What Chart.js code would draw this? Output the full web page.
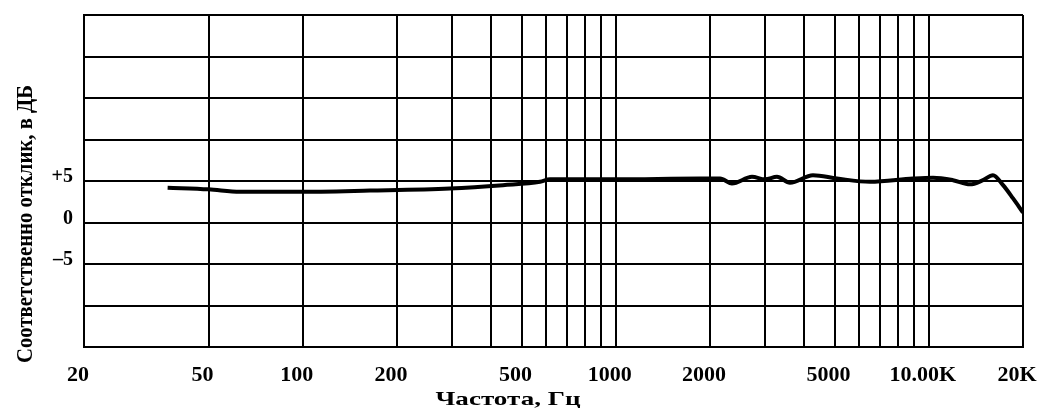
<!DOCTYPE html>
<html>
<head>
<meta charset="utf-8">
<script src="https://cdn.jsdelivr.net/npm/chart.js@4"></script>
<style>
  html, body { margin: 0; padding: 0; background: #fff; }
  #wrap { width: 1049px; height: 408px; }
</style>
</head>
<body>
<div id="wrap"><canvas id="responseChart" width="1049" height="408"></canvas></div>
<script>
// grid and tick values
const gridFreqs = [20, 50, 100, 200, 300, 400, 500, 600, 700, 800, 900, 1000,
    2000, 3000, 4000, 5000, 6000, 7000, 8000, 9000, 10000, 20000];
const labelFreqs = [20, 50, 100, 200, 500, 1000, 2000, 5000, 10000, 20000];
const labelTexts = ['20', '50', '100', '200', '500', '1000', '2000', '5000', '10.00K', '20K'];
const yTickValues = [5, 0, -5];
const yTickTexts = ['+5', '0', '–5'];

// frequency response
const freqs = [37, 50, 63, 96, 164, 295, 436, 573, 616, 1000, 1858, 2155, 2350, 2724,
    2998, 3274, 3602, 4266, 5090, 6488, 8906, 10316, 11950, 13542, 14900, 16036,
    17270, 18590, 20000];
const levels = [4.2, 4.0, 3.7, 3.7, 3.85, 4.1, 4.5, 4.9, 5.2, 5.2, 5.3, 5.3, 4.7, 5.5,
    5.2, 5.5, 4.8, 5.7, 5.3, 4.9, 5.3, 5.4, 5.1, 4.6, 5.1, 5.7,
    4.5, 2.9, 1.2];

const xTitle = 'Частота, Гц';
const yTitle = 'Соответственно отклик, в ДБ';

const serif = '"Liberation Serif", "DejaVu Serif", serif';

const axisTitles = {
    id: 'axisTitles',
    afterDraw(chart) {
        const ctx = chart.ctx;
        ctx.save();
        ctx.fillStyle = '#000';
        ctx.textAlign = 'center';
        ctx.textBaseline = 'middle';

        ctx.font = 'bold 24px ' + serif;
        let w = ctx.measureText(yTitle).width;
        ctx.save();
        ctx.translate(26, 224);
        ctx.rotate(-Math.PI / 2);
        ctx.scale(278 / w, 1);
        ctx.fillText(yTitle, 0, 0);
        ctx.restore();

        ctx.font = 'bold 19px ' + serif;
        w = ctx.measureText(xTitle).width;
        ctx.save();
        ctx.translate(508, 400);
        ctx.scale(145 / w, 1);
        ctx.fillText(xTitle, 0, 0);
        ctx.restore();

        ctx.restore();
    }
};

new Chart(document.getElementById('responseChart').getContext('2d'), {
    type: 'line',
    data: {
        datasets: [{
            data: freqs.map((f, i) => ({ x: f, y: levels[i] })),
            borderColor: '#000',
            borderWidth: 4,
            pointRadius: 0,
            fill: false,
            cubicInterpolationMode: 'monotone'
        }]
    },
    options: {
        responsive: false,
        animation: false,
        layout: { padding: { top: 15, right: 26, left: 0, bottom: 0 } },
        plugins: {
            legend: { display: false },
            tooltip: { enabled: false }
        },
        scales: {
            x: {
                type: 'logarithmic',
                min: 20,
                max: 20000,
                afterBuildTicks: scale => {
                    scale.ticks = gridFreqs.map(v => ({ value: v }));
                },
                afterFit: scale => {
                    scale.height = 61;
                    scale.paddingLeft = 0;
                    scale.paddingRight = 0;
                },
                grid: { color: '#000', lineWidth: 2, drawTicks: false },
                border: { color: '#000', width: 2 },
                ticks: {
                    autoSkip: false,
                    maxRotation: 0,
                    padding: 15,
                    labelOffset: -6,
                    color: '#000',
                    font: { family: serif, size: 22, weight: 'bold' },
                    callback: value => {
                        const i = labelFreqs.indexOf(value);
                        return i >= 0 ? labelTexts[i] : '';
                    }
                }
            },
            y: {
                min: -15,
                max: 25,
                afterFit: scale => {
                    scale.width = 84;
                    scale.paddingTop = 0;
                    scale.paddingBottom = 0;
                },
                grid: { color: '#000', lineWidth: 2, drawTicks: false },
                border: { color: '#000', width: 2 },
                ticks: {
                    stepSize: 5,
                    padding: 11,
                    labelOffset: -4,
                    color: '#000',
                    font: { family: serif, size: 20, weight: 'bold' },
                    callback: value => {
                        const i = yTickValues.indexOf(value);
                        return i >= 0 ? yTickTexts[i] : '';
                    }
                }
            }
        }
    },
    plugins: [axisTitles]
});
</script>
</body>
</html>
